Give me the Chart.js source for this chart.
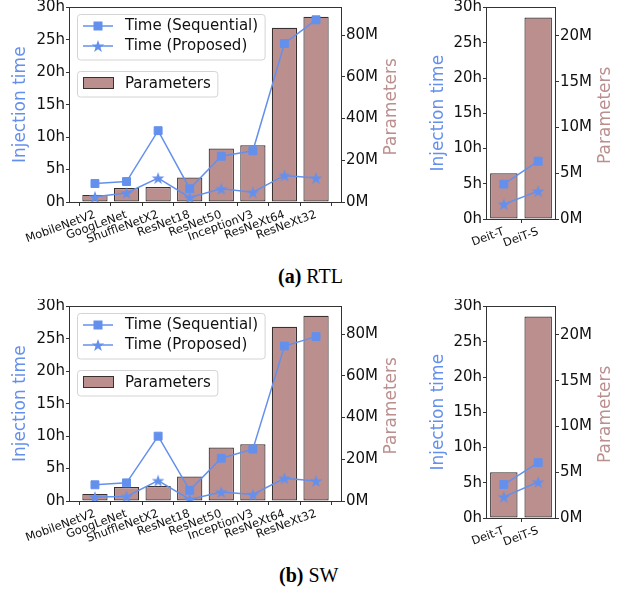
<!DOCTYPE html>
<html><head><meta charset="utf-8">
<script src="https://cdn.jsdelivr.net/npm/chart.js@4.4.0/dist/chart.umd.min.js"></script>
<style>
html,body{margin:0;padding:0;background:#fff;width:633px;height:594px;overflow:hidden;position:relative}
canvas{position:absolute}
.cap{position:absolute;font-family:"Liberation Serif","DejaVu Serif",serif;font-size:20px;line-height:20px;color:#000;white-space:nowrap}
</style></head><body>
<canvas id="cA" width="410" height="255" style="left:0;top:0"></canvas>
<canvas id="cB" width="218" height="255" style="left:415px;top:0"></canvas>
<canvas id="cC" width="410" height="255" style="left:0;top:299px"></canvas>
<canvas id="cD" width="218" height="255" style="left:415px;top:299px"></canvas>
<div class="cap" style="left:278px;top:266px"><b>(a)</b> RTL</div>
<div class="cap" style="left:279px;top:565px"><b>(b)</b> SW</div>
<script>
// ---- data ----
const categories = ['MobileNetV2','GoogLeNet','ShuffleNetX2','ResNet18','ResNet50','InceptionV3','ResNeXt64','ResNeXt32'];
const parameters = [3.4, 6.7, 7.2, 11.7, 25.6, 27.2, 83.5, 88.8];
const rtlSequential = [2.85, 3.15, 11.0, 2.05, 7.05, 7.9, 24.45, 28.1];
const rtlProposed   = [0.8, 1.4, 3.7, 0.7, 2.05, 1.5, 4.1, 3.7];
const swSequential  = [2.5, 2.8, 10.0, 1.65, 6.6, 8.0, 23.9, 25.35];
const swProposed    = [0.6, 0.7, 3.15, 0.25, 1.4, 1.0, 3.5, 3.1];
const deitCategories = ['Deit-T','DeiT-S'];
const deitParameters = [5.0, 22.0];
const deitRtlSequential = [4.95, 8.2];
const deitRtlProposed   = [2.1, 3.95];
const deitSwSequential  = [4.75, 7.85];
const deitSwProposed    = [3.0, 5.1];
const timeTicks = [0, 5, 10, 15, 20, 25, 30];
const paramTicksMain = [0, 20, 40, 60, 80];
const paramTicksDeit = [0, 5, 10, 15, 20];

// ---- style ----
const BLUE = '#6490ED', ROSY = '#BC8F8F', EDGE = '#3a3030', INK = '#111', SPINE = '#333';
const FONT = "'DejaVu Sans', sans-serif";

function makeStar(R, color){
  const s = Math.ceil(R*2+2);
  const c = document.createElement('canvas'); c.width = s; c.height = s;
  const g = c.getContext('2d'); g.fillStyle = color;
  g.beginPath();
  for (let i = 0; i < 10; i++){
    const a = -Math.PI/2 + i*Math.PI/5;
    const r = i%2 ? R*0.40 : R;
    const x = s/2 + r*Math.cos(a), y = s/2 + 0.6 + r*Math.sin(a);
    i ? g.lineTo(x,y) : g.moveTo(x,y);
  }
  g.closePath(); g.fill();
  return c;
}
const starImg = makeStar(6.6, BLUE);

const framePlugin = {
  id: 'frame',
  afterDatasetsDraw(chart){
    const {ctx, chartArea:a} = chart;
    ctx.save(); ctx.strokeStyle = SPINE; ctx.lineWidth = 1;
    ctx.strokeRect(Math.round(a.left)-0.5, Math.round(a.top)-0.5, Math.round(a.right)-Math.round(a.left)+1, Math.round(a.bottom)-Math.round(a.top)+1);
    ctx.restore();
  },
  afterDraw(chart){
    // right-axis title, reading bottom-to-top like the reference
    const {ctx, chartArea:a} = chart;
    const t = chart.options.scales.y1.title;
    ctx.save();
    ctx.translate(a.right + 50.7, (a.top + a.bottom)/2 + 2);
    ctx.rotate(-Math.PI/2);
    ctx.font = '17px ' + FONT; ctx.fillStyle = ROSY;
    ctx.textAlign = 'center'; ctx.textBaseline = 'middle';
    ctx.fillText(t.text, 0, 0);
    ctx.restore();
  }
};

function rrect(ctx,x,y,w,h,r){
  ctx.beginPath(); ctx.moveTo(x+r,y);
  ctx.arcTo(x+w,y,x+w,y+h,r); ctx.arcTo(x+w,y+h,x,y+h,r);
  ctx.arcTo(x,y+h,x,y,r); ctx.arcTo(x,y,x+w,y,r); ctx.closePath();
}

const legendPlugin = {
  id: 'refLegend',
  afterDraw(chart, args, opts){
    if (!opts || !opts.show) return;
    const ctx = chart.ctx, ds = chart.data.datasets;
    ctx.save();
    ctx.font = '15px ' + FONT; ctx.textBaseline = 'middle';
    const w1 = Math.max(ctx.measureText(ds[0].label).width, ctx.measureText(ds[1].label).width);
    rrect(ctx, 77.5, 14.5, 125 + w1 + 7 - 77.5, 45.5, 3);
    ctx.fillStyle = 'rgba(255,255,255,0.85)'; ctx.fill();
    ctx.strokeStyle = '#d4d4d4'; ctx.lineWidth = 1; ctx.stroke();
    const rows = [26, 46];
    ctx.strokeStyle = BLUE; ctx.lineWidth = 1.5;
    rows.forEach(y => { ctx.beginPath(); ctx.moveTo(83, y); ctx.lineTo(113, y); ctx.stroke(); });
    ctx.fillStyle = BLUE; ctx.fillRect(98-4.5, rows[0]-4.5, 9, 9);
    ctx.drawImage(starImg, 98 - starImg.width/2, rows[1] - starImg.height/2);
    ctx.fillStyle = INK;
    ctx.fillText(ds[0].label, 125, rows[0]+0.5);
    ctx.fillText(ds[1].label, 125, rows[1]+0.5);
    const w2 = ctx.measureText(ds[2].label).width;
    rrect(ctx, 77.5, 71.5, 125 + w2 + 7 - 77.5, 25.5, 3);
    ctx.fillStyle = 'rgba(255,255,255,0.85)'; ctx.fill();
    ctx.strokeStyle = '#d4d4d4'; ctx.lineWidth = 1; ctx.stroke();
    ctx.fillStyle = ROSY; ctx.fillRect(83.5, 77.5, 30, 11);
    ctx.strokeStyle = EDGE; ctx.lineWidth = 1; ctx.strokeRect(83.5, 77.5, 30, 11);
    ctx.fillStyle = INK; ctx.fillText(ds[2].label, 125, 84);
    ctx.restore();
  }
};

function makeChart(id, cats, seq, prop, par, paramTicks, cfg){
  const xs = cats.map((_, i) => i);
  const tickFont = {family: FONT, size: 15};
  const gridOpts = {display: true, drawOnChartArea: false, drawTicks: true, tickLength: 4, color: SPINE, lineWidth: 1};
  new Chart(document.getElementById(id), {
    type: 'bar',
    data: { datasets: [
      { type: 'line', label: 'Time (Sequential)', data: xs.map(i => ({x: i, y: seq[i]})),
        xAxisID: 'x', yAxisID: 'y', borderColor: BLUE, backgroundColor: BLUE, borderWidth: 1.5,
        pointStyle: 'rect', pointRadius: 5.6, pointBorderWidth: 1, pointBorderColor: BLUE, pointBackgroundColor: BLUE, order: 1 },
      { type: 'line', label: 'Time (Proposed)', data: xs.map(i => ({x: i, y: prop[i]})),
        xAxisID: 'x', yAxisID: 'y', borderColor: BLUE, backgroundColor: BLUE, borderWidth: 1.5,
        pointStyle: starImg, pointRadius: 6, order: 1 },
      { type: 'bar', label: 'Parameters', data: xs.map(i => ({x: i, y: par[i]})),
        xAxisID: 'x', yAxisID: 'y1', backgroundColor: ROSY, borderColor: EDGE, borderWidth: 1.2,
        borderSkipped: false, barPercentage: 0.8, categoryPercentage: 1, order: 2 }
    ]},
    options: {
      responsive: false, animation: false, devicePixelRatio: 1,
      layout: {padding: {top: 6, left: 0, right: 0, bottom: 0}},
      plugins: { legend: {display: false}, tooltip: {enabled: false}, refLegend: {show: cfg.legend} },
      scales: {
        x: { type: 'linear', position: 'bottom', min: cfg.xmin, max: cfg.xmax, offset: false,
          afterBuildTicks: s => { s.ticks = xs.map(v => ({value: v})); },
          afterFit: s => { s.height = cfg.xh; s.paddingLeft = 0; s.paddingRight = 0; },
          ticks: { callback: v => cats[v], autoSkip: false, minRotation: 20, maxRotation: 20,
                   font: {family: FONT, size: 11.5}, color: INK, padding: 2 },
          grid: gridOpts, border: {display: false} },
        y: { position: 'left', min: 0, max: 30,
          afterBuildTicks: s => { s.ticks = timeTicks.map(v => ({value: v})); },
          afterFit: s => { s.width = cfg.lw; s.paddingTop = 0; s.paddingBottom = 0; },
          ticks: { callback: v => v + 'h', font: tickFont, color: INK, padding: 1 },
          title: { display: true, text: 'Injection time', color: BLUE, font: {family: FONT, size: 17},
                   padding: {top: cfg.ltp, bottom: 0} },
          grid: gridOpts, border: {display: false} },
        y1: { position: 'right', min: 0, max: Math.max(...par) * 1.05,
          afterBuildTicks: s => { s.ticks = paramTicks.map(v => ({value: v})); },
          afterFit: s => { s.width = cfg.rw; s.paddingTop = 0; s.paddingBottom = 0; },
          ticks: { callback: v => v + 'M', font: tickFont, color: INK, padding: 1 },
          title: { display: false, text: 'Parameters' },
          grid: gridOpts, border: {display: false} }
      }
    },
    plugins: [framePlugin, legendPlugin]
  });
}

const mainCfg = {xmin: -0.79, xmax: 7.79, xh: 53, lw: 70, rw: 69, ltp: 10, legend: true};
const deitCfg = {xmin: -0.49, xmax: 1.49, xh: 36, lw: 72, rw: 78, ltp: 13, legend: false};
makeChart('cA', categories, rtlSequential, rtlProposed, parameters, paramTicksMain, mainCfg);
makeChart('cB', deitCategories, deitRtlSequential, deitRtlProposed, deitParameters, paramTicksDeit, deitCfg);
makeChart('cC', categories, swSequential, swProposed, parameters, paramTicksMain, mainCfg);
makeChart('cD', deitCategories, deitSwSequential, deitSwProposed, deitParameters, paramTicksDeit, deitCfg);
</script>
</body></html>
